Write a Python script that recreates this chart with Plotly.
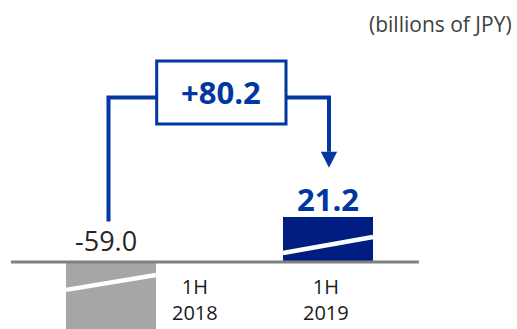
import plotly.graph_objects as go

# Half-year results (billions of JPY)
categories = ["1H<br>2018", "1H<br>2019"]
values = [-59.0, 21.2]
value_labels = ["-59.0", "21.2"]
unit_label = "(billions of JPY)"

change = values[1] - values[0]
change_label = f"+{change:.1f}"

FONT = "Open Sans, Noto Sans, DejaVu Sans, sans-serif"
GRAY_BAR = "#a6a6a6"
NAVY_BAR = "#001e82"
BLUE = "#0037a0"
BASE = "#808080"

x_pos = list(range(len(categories)))
bar_w = 0.415

fig = go.Figure()
fig.add_trace(go.Bar(
    x=x_pos, y=values, width=bar_w,
    marker=dict(color=[GRAY_BAR, NAVY_BAR], line=dict(width=0)),
    hoverinfo="skip", showlegend=False,
))

shapes = []
# baseline
shapes.append(dict(type="line", xref="x", yref="y", x0=-0.461, x1=1.419, y0=0, y1=0,
                   line=dict(color=BASE, width=3), layer="above"))

# white axis-break stripes across each bar
breaks = [(-13.1, -6.1), (4.2, 11.7)]
for i, (ya, yb) in enumerate(breaks):
    shapes.append(dict(type="line", xref="x", yref="y",
                       x0=x_pos[i] - bar_w / 2, x1=x_pos[i] + bar_w / 2, y0=ya, y1=yb,
                       line=dict(color="white", width=4.5), layer="above"))

# connector from first bar to second bar through the change box
box_x0, box_x1 = 0.2106, 0.8065
box_y0, box_y1 = 64.6, 94.1
line_y = 77.0
lx = x_pos[0] - 0.0115
rx = x_pos[1] + 0.0046
shapes.append(dict(type="path", xref="x", yref="y",
                   path=f"M {lx},18.9 L {lx},{line_y} L {box_x0},{line_y}",
                   line=dict(color=BLUE, width=4)))
shapes.append(dict(type="path", xref="x", yref="y",
                   path=f"M {box_x1},{line_y} L {rx},{line_y} L {rx},51.6",
                   line=dict(color=BLUE, width=4)))
# arrowhead
shapes.append(dict(type="path", xref="x", yref="y",
                   path=f"M {rx - 0.0375},51.6 L {rx + 0.0375},51.6 L {rx},44.1 Z",
                   fillcolor=BLUE, line=dict(color=BLUE, width=0)))
# change box
shapes.append(dict(type="rect", xref="x", yref="y",
                   x0=box_x0, x1=box_x1, y0=box_y0, y1=box_y1,
                   fillcolor="white", line=dict(color=BLUE, width=3)))

annotations = []
# value labels
annotations.append(dict(x=x_pos[0] - 0.023, y=0, xref="x", yref="y", text=value_labels[0],
                        showarrow=False, yanchor="middle", yshift=21,
                        font=dict(family=FONT, size=27, color="#262626")))
annotations.append(dict(x=x_pos[1] - 0.002, y=values[1], xref="x", yref="y",
                        text=f"<b>{value_labels[1]}</b>",
                        showarrow=False, yanchor="middle", yshift=18,
                        font=dict(family=FONT, size=31, color=BLUE)))
# change label
annotations.append(dict(x=(box_x0 + box_x1) / 2, y=(box_y0 + box_y1) / 2, xref="x", yref="y",
                        text=f"<b>{change_label}</b>", showarrow=False,
                        font=dict(family=FONT, size=31, color=BLUE)))
# category labels
cat_offsets = [0.387, -0.0115]
for i, c in enumerate(categories):
    annotations.append(dict(x=x_pos[i] + cat_offsets[i], y=0, xref="x", yref="y", text=c,
                            showarrow=False, yanchor="bottom", yshift=-65, borderpad=0,
                            font=dict(family=FONT, size=20, color="#1a1a1a")))
# unit
annotations.append(dict(x=1, y=1, xref="paper", yref="paper", text=unit_label,
                        showarrow=False, xanchor="right", yanchor="middle",
                        xshift=-3, yshift=-24,
                        font=dict(family=FONT, size=21, color="#404040")))

fig.update_layout(
    width=517, height=329,
    margin=dict(l=0, r=0, t=0, b=0),
    paper_bgcolor="white", plot_bgcolor="white",
    xaxis=dict(range=[-0.5115, 1.871], visible=False, fixedrange=True),
    yaxis=dict(range=[-31.4, 122.6], visible=False, fixedrange=True),
    shapes=shapes, annotations=annotations,
    bargap=0,
)

fig.write_html("out.html")
